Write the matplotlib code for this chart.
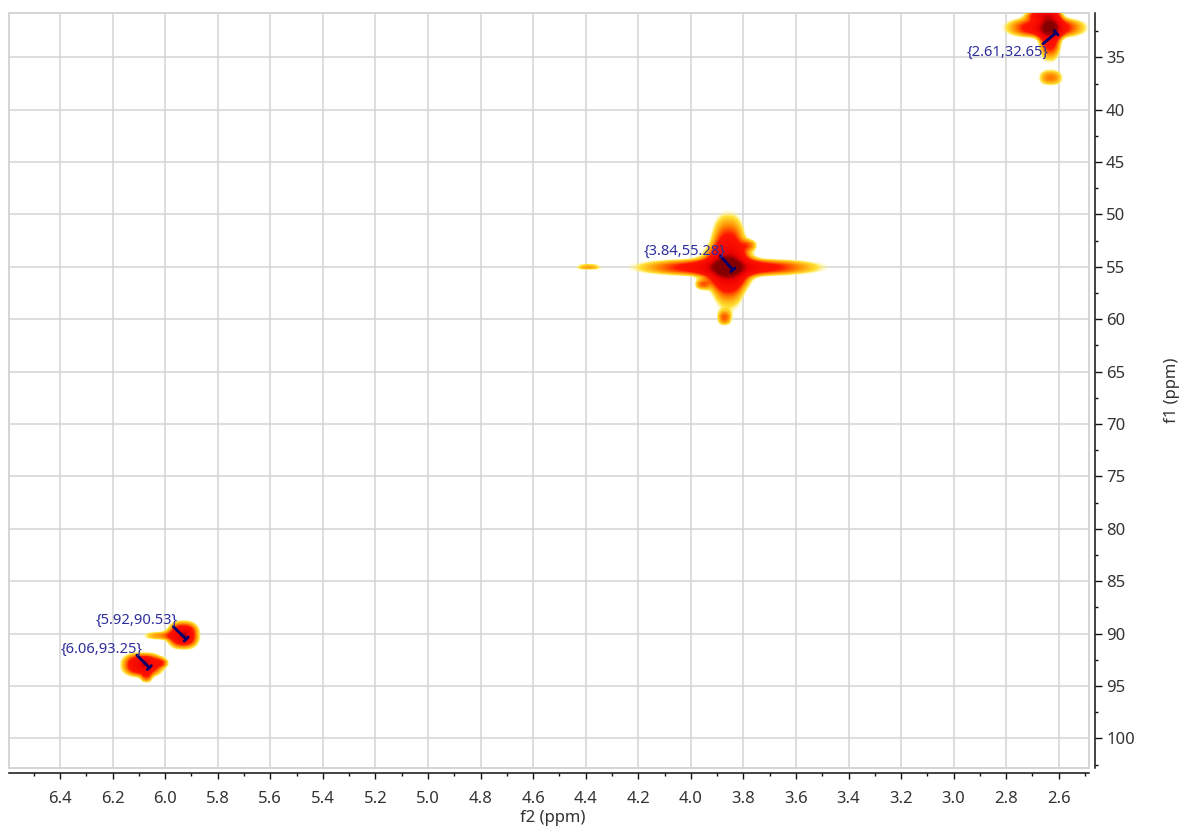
import numpy as np
import matplotlib
matplotlib.use("Agg")
import matplotlib.pyplot as plt
from matplotlib.colors import LinearSegmentedColormap
from matplotlib.ticker import MultipleLocator, FormatStrFormatter
from matplotlib.patches import Rectangle

plt.rcParams['font.family'] = ['Noto Sans', 'DejaVu Sans']

# ---- data ----
# picked peaks (f2, f1) in ppm
peak_f2 = [2.61, 3.84, 5.92, 6.06]
peak_f1 = [32.65, 55.28, 90.53, 93.25]

# cross-peak intensity components (centre f2, centre f1, half-widths, height)
comp_f2 = [2.630, 2.645, 2.628, 2.655, 2.625,
           3.862, 3.855, 3.855, 3.860, 4.390, 3.870, 3.955, 3.775,
           5.935, 6.020, 5.930,
           6.090, 6.075, 6.020, 6.080]
comp_f1 = [32.1, 32.1, 32.6, 30.9, 36.9,
           55.0, 55.05, 54.45, 55.0, 55.0, 59.9, 56.7, 52.9,
           90.25, 90.3, 90.3,
           93.1, 94.3, 92.9, 93.0]
comp_w2 = [0.031, 0.098, 0.028, 0.043, 0.034,
           0.030, 0.225, 0.044, 0.068, 0.036, 0.019, 0.020, 0.0215,
           0.038, 0.050, 0.012,
           0.050, 0.015, 0.020, 0.012]
comp_w1 = [0.62, 0.62, 1.70, 0.36, 0.54,
           0.70, 0.52, 2.85, 1.30, 0.20, 0.50, 0.35, 0.38,
           0.83, 0.30, 0.35,
           0.72, 0.40, 0.30, 0.35]
comp_amp = [0.35, 0.45, 0.45, 0.45, 0.22,
            0.35, 0.45, 0.45, 0.40, 0.20, 0.22, 0.20, 0.18,
            0.55, 0.20, 0.35,
            0.55, 0.20, 0.20, 0.35]

xlim = (6.594, 2.485)
ylim = (102.83, 30.74)

# ---- figure ----
W, H = 1185, 827
fig = plt.figure(figsize=(W / 100, H / 100), dpi=100)
L, R, T, B = 9, 1089, 12.7, 768
ax = fig.add_axes([L / W, 1 - B / H, (R - L) / W, (B - T) / H])

f2_axis = np.arange(xlim[0] + 0.01, xlim[1] - 0.01, -0.0115)
f1_axis = np.arange(ylim[1] - 0.3, ylim[0] + 0.3, 0.29)
F2, F1 = np.meshgrid(f2_axis, f1_axis)
Z = np.zeros_like(F2)
for c2, c1, w2, w1, a in zip(comp_f2, comp_f1, comp_w2, comp_w1, comp_amp):
    Z += a * np.exp(-0.5 * np.abs((F2 - c2) / w2) ** 2.5) \
           * np.exp(-0.5 * np.abs((F1 - c1) / w1) ** 2.5)
Z = np.clip(Z, 0, 1)

cmap = LinearSegmentedColormap.from_list("nmr", [
    (0.00, (1.0, 1.0, 1.0, 0.0)),
    (0.06, (1.0, 1.0, 0.7, 0.0)),
    (0.11, (1.0, 0.88, 0.2, 1.0)),
    (0.20, (1.0, 0.55, 0.0, 1.0)),
    (0.31, (1.0, 0.08, 0.0, 1.0)),
    (0.70, (0.92, 0.0, 0.0, 1.0)),
    (1.00, (0.52, 0.0, 0.0, 1.0)),
])
ax.imshow(Z, extent=(f2_axis[0], f2_axis[-1], f1_axis[-1], f1_axis[0]),
          origin='upper', aspect='auto', cmap=cmap, vmin=0, vmax=1,
          interpolation='bilinear', zorder=2)

ax.set_xlim(*xlim)
ax.set_ylim(*ylim)

# grid and frame
grid_c = '#d4d4d4'
ax.xaxis.set_major_locator(MultipleLocator(0.2))
ax.xaxis.set_minor_locator(MultipleLocator(0.1))
ax.yaxis.set_major_locator(MultipleLocator(5))
ax.yaxis.set_minor_locator(MultipleLocator(2.5))
ax.grid(True, which='major', color=grid_c, lw=1.1, zorder=0)
ax.set_axisbelow(True)
ax.add_patch(Rectangle((0, 0), 1, 1, transform=ax.transAxes, fill=False,
                       ec=grid_c, lw=1.4, zorder=1, clip_on=False))
ax.spines['top'].set_visible(False)
ax.spines['left'].set_visible(False)
ax.spines['bottom'].set_position(('outward', 3.6))
ax.spines['right'].set_position(('outward', 4.3))
for s in ('bottom', 'right'):
    ax.spines[s].set_color('#111111')
    ax.spines[s].set_linewidth(1.1)

ax.yaxis.tick_right()
ax.tick_params(axis='x', which='major', direction='out', length=4, width=1.0,
               pad=9, labelsize=12, labelcolor='#333333', color='#111111')
ax.tick_params(axis='x', which='minor', direction='out', length=2.5, width=1.0,
               color='#111111')
ax.tick_params(axis='y', which='major', direction='out', length=5, width=1.0,
               pad=3, labelsize=12, labelcolor='#333333', color='#111111',
               left=False, right=True, labelleft=False, labelright=True)
ax.tick_params(axis='y', which='minor', direction='out', length=2.5, width=1.0,
               color='#111111', left=False, right=True)
ax.xaxis.set_major_formatter(FormatStrFormatter('%.1f'))
ax.yaxis.set_major_formatter(FormatStrFormatter('%d'))

ax.set_xlabel('f2 (ppm)', fontsize=12, color='#333333')
ax.xaxis.set_label_coords(0.503, -0.066)
ax.xaxis.label.set_va('center')
ax.yaxis.set_label_position('right')
ax.set_ylabel('f1 (ppm)', fontsize=12, color='#333333')
ax.yaxis.set_label_coords(1.077, 0.5)
ax.yaxis.label.set_va('center')
ax.yaxis.label.set_ha('center')

# peak labels
text_off = [(-34.8, -13.8), (-34.6, 13.0), (-35.4, 13.3), (-34.5, 13.0)]
line_off = [(-9.5, -8.0), (-9.0, 10.0), (-9.3, 9.0), (-9.0, 9.0)]
for f2, f1, to, lo in zip(peak_f2, peak_f1, text_off, line_off):
    ax.annotate('', xy=(f2, f1), xytext=lo, textcoords='offset points',
                arrowprops=dict(arrowstyle='-[,widthB=0.2,lengthB=0',
                                color='#00006e', lw=2.0,
                                shrinkA=0, shrinkB=0), zorder=5)
    ax.annotate('{%.2f,%.2f}' % (f2, f1), xy=(f2, f1), xytext=to,
                textcoords='offset points', ha='center', va='center',
                fontsize=10.6, color='#2f2f9c', zorder=6)

fig.savefig('out.png', dpi=100)
